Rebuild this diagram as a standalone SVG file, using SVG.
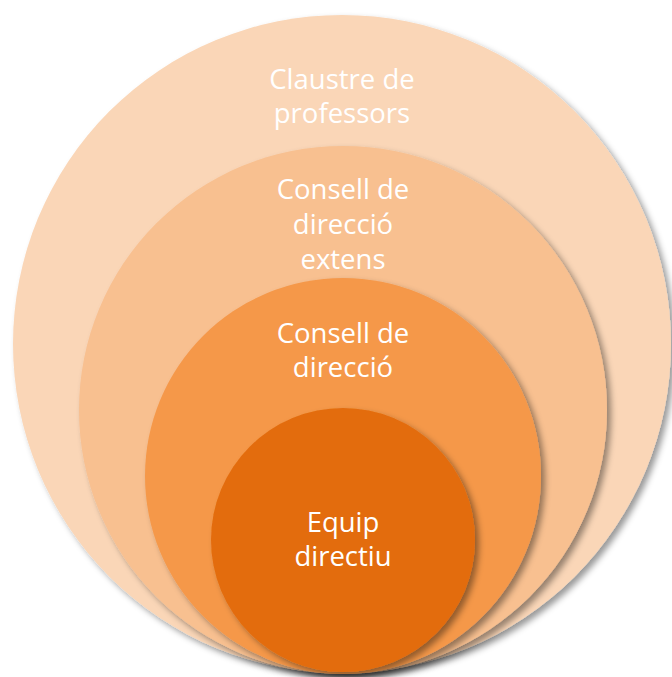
<svg xmlns="http://www.w3.org/2000/svg" width="672" height="677" viewBox="0 0 672 677">
<defs>
<filter id="sh" x="-10%" y="-10%" width="125%" height="125%">
<feDropShadow dx="4" dy="4" stdDeviation="3" flood-color="#000" flood-opacity="0.4"/>
</filter>
<style>
.t{font-family:"Open Sans","Noto Sans","Liberation Sans",sans-serif;font-size:27.5px;fill:#ffffff;text-anchor:middle}
</style>
</defs>
<rect width="672" height="677" fill="#ffffff"/>
<g id="claustre">
<circle cx="342" cy="344" r="329" fill="#FAD6B7" filter="url(#sh)"/>
<text class="t" x="342" y="89">Claustre de</text>
<text class="t" x="342" y="123">professors</text>
</g>
<g id="consell-extens">
<circle cx="343" cy="410" r="264" fill="#F8C090" filter="url(#sh)"/>
<text class="t" x="343" y="199">Consell de</text>
<text class="t" x="343" y="234">direcció</text>
<text class="t" x="343" y="269">extens</text>
</g>
<g id="consell">
<circle cx="343" cy="476" r="198" fill="#F5984A" filter="url(#sh)"/>
<text class="t" x="343" y="343">Consell de</text>
<text class="t" x="343" y="377">direcció</text>
</g>
<g id="equip">
<circle cx="343" cy="540" r="132" fill="#E36C0C" filter="url(#sh)"/>
<text class="t" x="343" y="532">Equip</text>
<text class="t" x="343" y="566">directiu</text>
</g>
<g id="connectors"/>
</svg>
